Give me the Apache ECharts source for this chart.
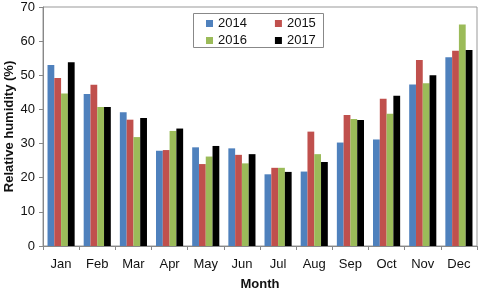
<!DOCTYPE html>
<html><head><meta charset="utf-8">
<script src="https://cdn.jsdelivr.net/npm/echarts@6/dist/echarts.min.js"></script>
<style>html,body{margin:0;padding:0;background:#fff}#c{width:480px;height:291px}</style>
</head><body><div id="c"></div>
<script>
const months = ['Jan','Feb','Mar','Apr','May','Jun','Jul','Aug','Sep','Oct','Nov','Dec'];
const years = ['2014','2015','2016','2017'];
const v2014 = [53.0,44.5,39.2,27.9,28.9,28.6,21.0,21.8,30.3,31.2,47.3,55.3];
const v2015 = [49.2,47.2,37.0,28.1,24.0,26.7,22.9,33.5,38.4,43.1,54.5,57.2];
const v2016 = [44.7,40.7,31.9,33.7,26.2,24.2,22.9,26.9,37.2,38.7,47.7,64.9];
const v2017 = [53.8,40.7,37.5,34.4,29.3,26.9,21.7,24.6,36.9,44.0,50.0,57.4];
const colors = ['#4F81BD','#C0504D','#9BBB59','#000000'];
const values = [v2014,v2015,v2016,v2017];
const yTicks = {min:0,max:70,interval:10};

const chart = echarts.init(document.getElementById('c'));
const font = 'Liberation Sans, Arial, sans-serif';
const legendCommon = {
  orient:'horizontal', itemWidth:7, itemHeight:7, itemGap:28,
  icon:'rect', selectedMode:false,
  textStyle:{fontFamily:font,fontSize:13,color:'#111'}, padding:0
};
chart.setOption({
  animation:false,
  color:colors,
  textStyle:{fontFamily:font},
  grid:{left:43,right:3,top:7,bottom:45,show:true,borderColor:'#999',borderWidth:1,outerBoundsMode:'none',containLabel:false},
  graphic:[{type:'rect',shape:{x:193.5,y:13.5,width:130,height:34},style:{fill:'#fff',stroke:'#888',lineWidth:1},z:0}],
  legend:[
    Object.assign({data:years.slice(0,2),left:206,top:17,z:5},legendCommon),
    Object.assign({data:years.slice(2,4),left:206,top:34,z:5},legendCommon)
  ],
  xAxis:{
    type:'category',data:months,
    name:'Month',nameLocation:'middle',nameGap:32,nameMoveOverlap:false,
    nameTextStyle:{fontFamily:font,fontSize:13,fontWeight:'bold',color:'#111'},
    axisLine:{lineStyle:{color:'#888'}},
    axisTick:{show:true,length:4,lineStyle:{color:'#888'}},
    axisLabel:{fontFamily:font,fontSize:13,color:'#111',margin:12}
  },
  yAxis:{
    type:'value',min:yTicks.min,max:yTicks.max,interval:yTicks.interval,
    name:'Relative humidity (%)',nameLocation:'middle',nameGap:27,nameMoveOverlap:false,
    nameTextStyle:{fontFamily:font,fontSize:13,fontWeight:'bold',color:'#111'},
    axisLine:{show:true,lineStyle:{color:'#888'}},
    axisTick:{show:true,length:4,lineStyle:{color:'#888'}},
    splitLine:{show:false},
    axisLabel:{fontFamily:font,fontSize:13,color:'#111',margin:8}
  },
  series: years.map((y,i)=>({
    name:y,type:'bar',data:values[i],barGap:'0%',barCategoryGap:'25%',
    itemStyle:{color:colors[i]}
  }))
});
</script></body></html>
